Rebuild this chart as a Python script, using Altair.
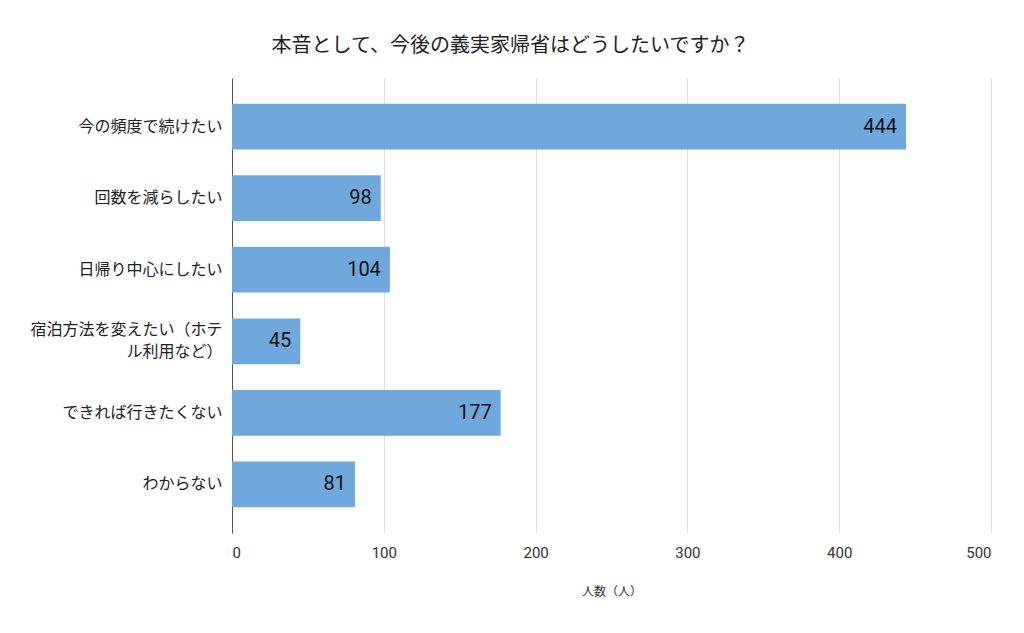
import altair as alt
import pandas as pd

categories = [
    "今の頻度で続けたい",
    "回数を減らしたい",
    "日帰り中心にしたい",
    "宿泊方法を変えたい（ホテル利用など）",
    "できれば行きたくない",
    "わからない",
]
counts = [444, 98, 104, 45, 177, 81]
x_ticks = [0, 100, 200, 300, 400, 500]

df = pd.DataFrame({"answer": categories, "count": counts})

jp_font = "Noto Sans CJK JP"
num_font = "Roboto"

y_enc = alt.Y(
    "answer:N",
    sort=categories,
    title=None,
    scale=alt.Scale(paddingInner=0.36, paddingOuter=0.36),
    axis=alt.Axis(
        labelFont=jp_font,
        labelFontSize=16,
        labelColor="#222222",
        labelPadding=10,
        labelLineHeight=22,
        labelOffset={"condition": {"test": "length(datum.label) > 12", "value": -11}, "value": 0},
        ticks=False,
        domainColor="#555555",
        labelLimit=300,
        labelExpr="length(datum.label) > 12 ? ['宿泊方法を変えたい（ホテ', 'ル利用など）'] : datum.label",
    ),
)

bars = alt.Chart(df).mark_bar(color="#6fa8dc").encode(
    x=alt.X(
        "count:Q",
        title="人数（人）",
        scale=alt.Scale(domain=[0, 500], nice=False),
        axis=alt.Axis(
            values=x_ticks,
            labelFont=num_font,
            labelFontSize=15,
            labelColor="#333333",
            labelPadding=12,
            ticks=False,
            domain=False,
            gridColor="#dddddd",
            titleFont=jp_font,
            titleFontSize=12,
            titleFontWeight="normal",
            titleColor="#333333",
            titlePadding=26,
        ),
    ),
    y=y_enc,
)

labels = alt.Chart(df).mark_text(
    align="right", baseline="middle", dx=-9, font=num_font, fontSize=20, color="#111111"
).encode(
    x="count:Q",
    y=alt.Y("answer:N", sort=categories),
    text="count:Q",
)

chart = (
    alt.layer(bars, labels)
    .properties(
        width=759,
        height=455,
        padding={"left": 21, "top": 28, "right": 20, "bottom": 5},
        title=alt.TitleParams(
            "本音として、今後の義実家帰省はどうしたいですか？",
            font=jp_font,
            fontSize=20,
            fontWeight="normal",
            color="#222222",
            anchor="middle",
            frame="bounds",
            offset=22,
        ),
    )
    .configure_view(stroke=None)
)

chart.save("out.html", embed_options={"renderer": "svg", "actions": False})
